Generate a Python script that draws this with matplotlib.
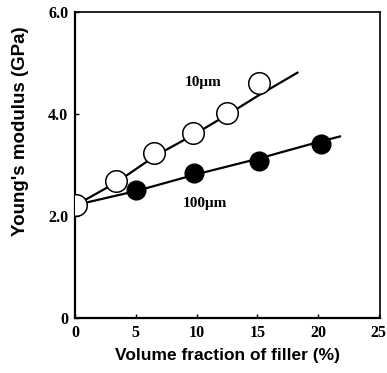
import matplotlib
matplotlib.use('Agg')
import matplotlib.pyplot as plt

# ── Data ─────────────────────────────────────────────────────────────────────
# 10 um filler (open circles)
x_10 = [0.1, 3.4, 6.5, 9.7, 12.5, 15.1]
y_10 = [2.22, 2.68, 3.24, 3.63, 4.02, 4.60]
# fitted curve for 10 um
fit10_x = [0.1, 3.4, 6.6, 9.8, 12.5, 15.0, 18.3]
fit10_y = [2.22, 2.66, 3.18, 3.60, 3.98, 4.35, 4.81]

# 100 um filler (filled circles)
x_100 = [5.0, 9.75, 15.1, 20.2]
y_100 = [2.52, 2.85, 3.08, 3.42]
# fitted curve for 100 um
fit100_x = [0.1, 5.0, 10.0, 15.0, 20.0, 21.8]
fit100_y = [2.22, 2.49, 2.82, 3.12, 3.45, 3.56]

xticks = [0, 5, 10, 15, 20, 25]
yticks = [0, 2, 4, 6]
ytick_labels = ['0', '2.0', '4.0', '6.0']

SERIF = ['Liberation Serif', 'DejaVu Serif']
SANS = ['Liberation Sans', 'DejaVu Sans']

fig = plt.figure(figsize=(3.87, 3.73), dpi=100)
ax = fig.add_axes([0.194, 0.147, 0.788, 0.821])

ax.plot(fit10_x, fit10_y, color='black', lw=1.6, zorder=1)
ax.plot(fit100_x, fit100_y, color='black', lw=1.6, zorder=1)

ax.plot(x_10, y_10, 'o', ms=15.5, mfc='white', mec='black', mew=1.1, zorder=3)
ax.plot(x_100, y_100, 'o', ms=13.5, mfc='black', mec='black', zorder=3)

ax.text(10.5, 4.62, '10\u03bcm', family=SERIF, fontweight='bold',
        fontsize=11, ha='center', va='center')
ax.text(10.7, 2.25, '100\u03bcm', family=SERIF, fontweight='bold',
        fontsize=11, ha='center', va='center')

ax.set_xlim(0, 25.1)
ax.set_ylim(0, 6.0)
ax.set_xticks(xticks)
ax.set_xticklabels([str(t) for t in xticks], family=SERIF,
                   fontweight='bold', fontsize=11.5)
ax.set_yticks(yticks)
ax.set_yticklabels(ytick_labels, family=SERIF, fontweight='bold', fontsize=11.5)
ax.tick_params(direction='in', length=3, width=1, pad=5)

for side in ['left', 'bottom']:
    ax.spines[side].set_linewidth(1.6)
for side in ['top', 'right']:
    ax.spines[side].set_linewidth(1.2)

ax.set_xlabel('Volume fraction of filler (%)', family=SANS,
              fontweight='bold', fontsize=12.5, labelpad=5)
ax.set_ylabel("Young's modulus (GPa)", family=SANS,
              fontweight='bold', fontsize=13.5)
ax.yaxis.set_label_coords(-0.15, 0.61)

fig.savefig('out.png', dpi=100)
